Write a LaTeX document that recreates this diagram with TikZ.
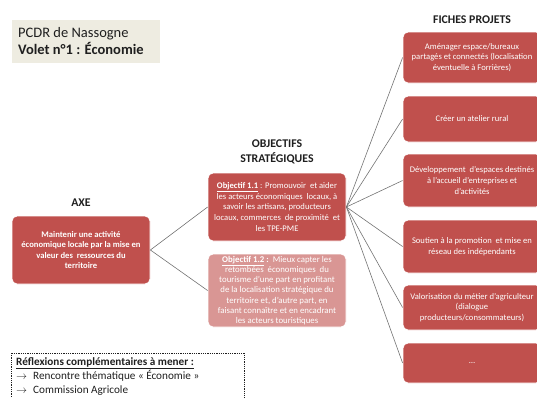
\documentclass[tikz,border=0pt]{standalone}
\usepackage{fontspec}
\setmainfont{Carlito}
\definecolor{boxred}{HTML}{C0504D}
\definecolor{boxpink}{HTML}{D99694}
\definecolor{titlebg}{HTML}{EEECE1}
\definecolor{linegray}{HTML}{737373}
\definecolor{hdr}{HTML}{1F1F1F}
\tikzset{
  redbox/.style={draw=white, line width=0.8pt, fill=boxred, rounded corners=5pt,
    text=white, align=center, inner sep=1pt, minimum width=138pt,
    font=\fontsize{8.6}{10.6}\selectfont},
  pinkbox/.style={redbox, fill=boxpink},
  hdrlabel/.style={align=center, text=hdr, font=\fontsize{11.8}{15}\selectfont\bfseries},
  conn/.style={draw=linegray, line width=0.6pt}
}
\begin{document}
\begin{tikzpicture}[x=1pt,y=-1pt]
\useasboundingbox (0,0) rectangle (537,397);
\clip (0,0) rectangle (537,397);
% title
\node[fill=titlebg, minimum width=148pt, minimum height=43pt, inner sep=0pt] (titlebox) at (86,41.5) {};
\node[anchor=west, align=left, inner sep=0pt, font=\fontsize{14.5}{17}\selectfont, text=hdr] (title) at (18,41.5)
  {PCDR de Nassogne\\\textbf{Volet n°1 : Économie}};
% headers
\node[hdrlabel] (haxe) at (81,203) {AXE};
\node[hdrlabel] (hobj) at (277,152) {OBJECTIFS\\STRATÉGIQUES};
\node[hdrlabel] (hfich) at (472,20) {FICHES PROJETS};
% axe
\node[redbox, minimum height=68pt, font=\fontsize{8.6}{10.6}\selectfont\bfseries] (axe) at (81,250)
  {Maintenir une activité\\économique locale par la mise en\\valeur des\ \ ressources du\\territoire};
% objectives
\node[redbox, minimum height=68pt] (obj1) at (277,207)
  {\textbf{\underline{Objectif 1.1}} : Promouvoir\ \ et aider\\les acteurs économiques\ \ locaux, à\\savoir les artisans, producteurs\\locaux, commerces\ \ de proximité\ \ et\\les TPE-PME};
\node[pinkbox, minimum height=73pt, font=\fontsize{8.8}{10.2}\selectfont] (obj2) at (277,290.5)
  {\textbf{\underline{Objectif 1.2} :}\ \ Mieux capter les\\retombées\ \ économiques\ \ du\\tourisme d’une part en profitant\\de la localisation stratégique du\\territoire et, d’autre part, en\\faisant connaître et en encadrant\\les acteurs touristiques};
% fiches
\node[redbox, minimum height=51pt] (f1) at (472,57.5)
  {Aménager espace/bureaux\\partagés et connectés (localisation\\éventuelle à Forrières)};
\node[redbox, minimum height=46pt] (f2) at (472,119)
  {Créer un atelier rural};
\node[redbox, minimum height=53pt] (f3) at (472,180.5)
  {Développement\ \ d’espaces destinés\\à l’accueil d’entreprises et\\d’activités};
\node[redbox, minimum height=53pt] (f4) at (472,246.5)
  {Soutien à la promotion\ \ et mise en\\réseau des indépendants};
\node[redbox, minimum height=45pt] (f5) at (472,307.5)
  {Valorisation du métier d’agriculteur\\(dialogue\\producteurs/consommateurs)};
\node[redbox, minimum height=40pt] (f6) at (472,363)
  {…};
% connectors
\draw[conn] (obj1.west) -- (axe.east) -- (obj2.west);
\foreach \f in {f1,f2,f3,f4,f5,f6}{
  \draw[conn] (obj1.east) -- (\f.west);
}
% dashed box
\draw[line width=0.8pt, draw=hdr, dash pattern=on 1pt off 0.8pt] (11,353) rectangle (244,410);
\node[anchor=north west, align=left, inner sep=0pt, text=hdr, font=\fontsize{11.2}{14}\selectfont] (refl) at (16,357)
  {\textbf{\underline{Réflexions complémentaires à mener :}}\\
   \makebox[17pt][l]{$\rightarrow$}Rencontre thématique « Économie »\\
   \makebox[17pt][l]{$\rightarrow$}Commission Agricole};
\end{tikzpicture}
\end{document}
